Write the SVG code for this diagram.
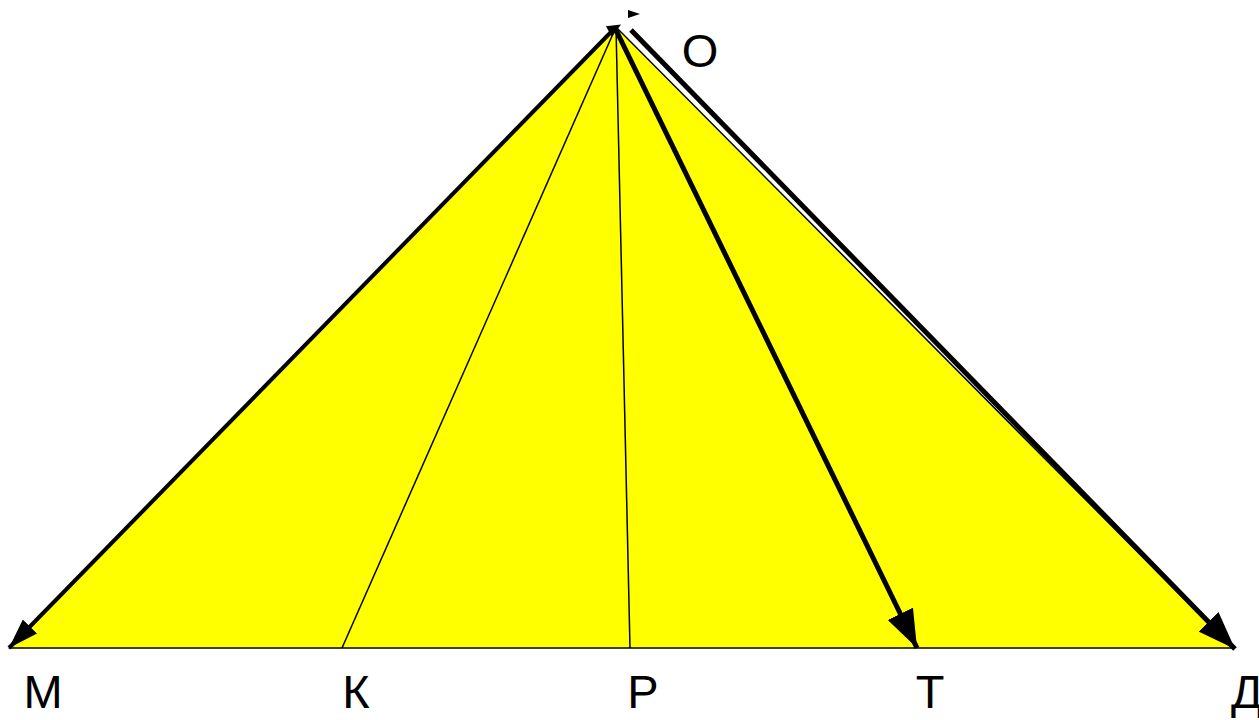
<svg xmlns="http://www.w3.org/2000/svg" width="1259" height="720" viewBox="0 0 1259 720">
<style>
.lbl{font-family:"Liberation Sans",Arial,sans-serif;font-size:47px;fill:#000}
.thin{stroke:#000;stroke-width:1.5;fill:none}
.thick{stroke:#000;stroke-width:4;fill:none}
.thicker{stroke:#000;stroke-width:5;fill:none}
</style>
<defs>
<marker id="big" viewBox="0 0 38 28" refX="38" refY="14" markerWidth="38" markerHeight="28" markerUnits="userSpaceOnUse" orient="auto">
<path d="M0,0 L38,14 L0,28 z" fill="#000"/>
</marker>
<marker id="mid" viewBox="0 0 30 20" refX="30" refY="10" markerWidth="30" markerHeight="20" markerUnits="userSpaceOnUse" orient="auto">
<path d="M0,0 L30,10 L0,20 z" fill="#000"/>
</marker>
</defs>
<g id="triangle">
<polygon points="616,27 10,648 1233,648" fill="#ffff00" stroke="#000" stroke-width="1.5"/>
</g>
<g id="connectors">
<line class="thin" x1="616" y1="27" x2="342" y2="648"/>
<line class="thin" x1="616" y1="27" x2="630" y2="648"/>
<line class="thick" x1="613" y1="30" x2="9" y2="648" marker-end="url(#mid)"/>
<line class="thicker" x1="616" y1="30" x2="917" y2="648" marker-end="url(#big)"/>
<line class="thicker" x1="631" y1="30" x2="1235" y2="649" marker-end="url(#big)"/>
<path d="M628,10 L640,14 L628,18 z" fill="#000"/>
<path d="M608,22 L622,28 L608,34 z" fill="#000" transform="rotate(-30 615 28)"/>
</g>
<g id="labels">
<text class="lbl" x="43" y="708" text-anchor="middle">М</text>
<text class="lbl" x="356" y="708" text-anchor="middle">К</text>
<text class="lbl" x="643" y="708" text-anchor="middle">Р</text>
<text class="lbl" x="930" y="708" text-anchor="middle">Т</text>
<text class="lbl" x="1247" y="708" text-anchor="middle">Д</text>
<text class="lbl" x="700" y="67" text-anchor="middle">O</text>
</g>
</svg>
